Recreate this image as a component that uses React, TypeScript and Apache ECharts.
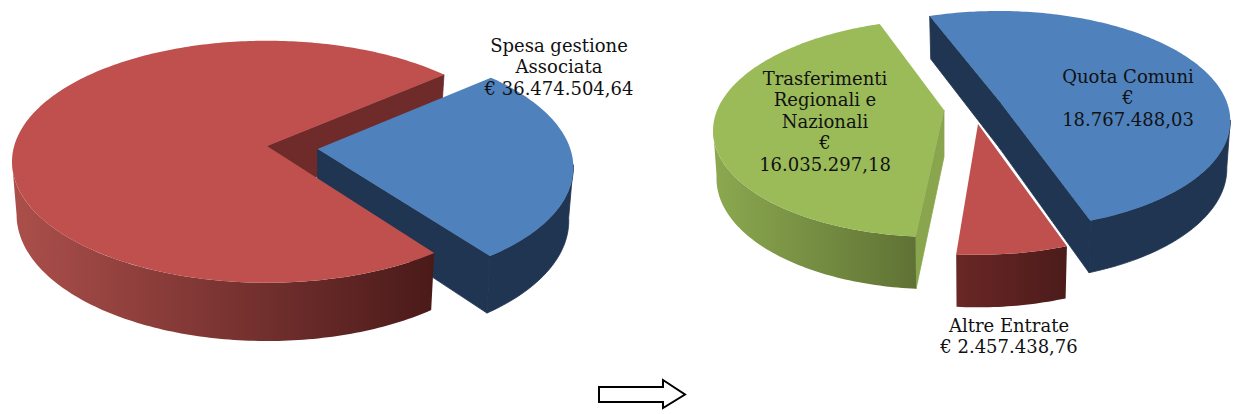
import React, { useEffect, useRef } from "react";
import * as echarts from "echarts";

// ---- data ----
const leftCategories = ["Spesa gestione Associata", "Altro (senza etichetta)"];
const leftValues = [36474504.64, 102770000];
const rightCategories = ["Quota Comuni", "Altre Entrate", "Trasferimenti Regionali e Nazionali"];
const rightValues = [18767488.03, 2457438.76, 16035297.18];

const leftLabelLines = ["Spesa gestione", "Associata", "€ 36.474.504,64"];
const quotaLabelLines = ["Quota Comuni", "€", "18.767.488,03"];
const altreLabelLines = ["Altre Entrate", "€ 2.457.438,76"];
const trasfLabelLines = ["Trasferimenti", "Regionali e", "Nazionali", "€", "16.035.297,18"];

// ---- projection and style ----
const BLUE = "#4F81BD", RED = "#C0504D", GREEN = "#9BBB59";
const BLUE_WALL = "#1F3552", RED_INNER = "#6E2B2A", GREEN_INNER = "#89A54E";
const FONT = '"DejaVu Serif", serif';

type Pie = { k: number; rx: number; ry: number; h0: number; hs: number; sx: number; startDeg: number };
type Geo = { ax: number; ay: number; shear: number; sX: number; sY: number };
const leftPie: Pie = { k: 0.13, rx: 255, ry: 121, h0: 52.3, hs: 0.044, sx: 0.982, startDeg: -40.6 };
const rightPie: Pie = { k: 0.165, rx: 225, ry: 109, h0: 46.8, hs: 0.044, sx: 0.985, startDeg: -110.5 };

const leftGeo: Geo[] = [
  { ax: 317.5, ay: 149, shear: 0.05, sX: 1, sY: 1 },
  { ax: 267, ay: 146, shear: 0, sX: 1, sY: 1 },
];
const rightGeo: Geo[] = [
  { ax: 1000, ay: 102, shear: 0.018, sX: 1.022, sY: 1 },
  { ax: 978, ay: 124, shear: 0, sX: 1.03, sY: 1.03 },
  { ax: 944, ay: 110, shear: -0.053, sX: 1.022, sY: 1 },
];

function angles(values: number[], startDeg: number) {
  const total = values.reduce((a, b) => a + b, 0);
  let cur = startDeg;
  return values.map((v) => {
    const a = cur;
    cur += (v / total) * 360;
    return [a, cur];
  });
}

function topPoint(p: Pie, g: Geo, deg: number) {
  const t = (deg * Math.PI) / 180;
  const u = Math.cos(t), v = Math.sin(t);
  const w = 1 - p.k * v;
  const R = p.rx * g.sX * Math.sqrt(1 - p.k * p.k);
  const S = p.ry * g.sY * (1 - p.k * p.k);
  const dy = (S * v) / w;
  return [g.ax + (R * u) / w + g.shear * dy, g.ay + dy];
}
function lower(p: Pie, g: Geo, pt: number[]) {
  return [g.ax + (pt[0] - g.ax) * p.sx, pt[1] + p.h0 + (pt[1] - g.ay) * p.hs];
}
function arc(p: Pie, g: Geo, a: number, b: number) {
  const n = Math.max(2, Math.ceil(Math.abs(b - a)));
  const out: number[][] = [];
  for (let i = 0; i <= n; i++) out.push(topPoint(p, g, a + ((b - a) * i) / n));
  return out;
}

type Part = { slice: number; part: "top" | "outer" | "edgeStart" | "edgeEnd"; fill: any };

function grad(x0: number, x1: number, c0: string, c1: string) {
  return new echarts.graphic.LinearGradient(x0, 0, x1, 0, [{ offset: 0, color: c0 }, { offset: 1, color: c1 }], true);
}

function pieSeries(p: Pie, values: number[], geo: Geo[], parts: Part[]) {
  const ang = angles(values, p.startDeg);
  // the wall's silhouette starts where the projected rim reaches its left and right extremes
  const tangent = (Math.asin(p.k) * 180) / Math.PI;
  return {
    type: "custom",
    coordinateSystem: "none",
    silent: true,
    data: parts.map((q) => [values[q.slice]]),
    renderItem: (params: any) => {
      const q = parts[params.dataIndex];
      const [a, b] = ang[q.slice];
      const g = geo[q.slice];
      const apex = [g.ax, g.ay];
      let points: number[][] = [];
      if (q.part === "top") {
        points = [apex, ...arc(p, g, a, b)];
      } else if (q.part === "outer") {
        const lo = Math.max(a, tangent), hi = Math.min(b, 180 - tangent);
        const rim = arc(p, g, lo, hi);
        points = [...rim, ...rim.map((pt) => lower(p, g, pt)).reverse()];
      } else {
        const rimPt = topPoint(p, g, q.part === "edgeStart" ? a : b);
        points = [apex, rimPt, lower(p, g, rimPt), lower(p, g, apex)];
      }
      const solidWall = q.part !== "top" && typeof q.fill === "string";
      return {
        type: "polygon",
        shape: { points },
        style: { fill: q.fill, stroke: solidWall ? q.fill : null, lineWidth: solidWall ? 0.8 : 0 },
      };
    },
  };
}

function textLines(lines: string[], x: number, y: number) {
  return lines.map((text, i) => ({
    type: "text",
    z: 100,
    x,
    y: y + i * 21.5,
    style: { text, fill: "#111", font: `18px ${FONT}`, textAlign: "center", textVerticalAlign: "middle" },
  }));
}

export default function App() {
  const ref = useRef<HTMLDivElement>(null);
  useEffect(() => {
    const chart = echarts.init(ref.current!, null, { renderer: "svg" });
    chart.setOption({
      animation: false,
      backgroundColor: "#fff",
      series: [
        pieSeries(leftPie, leftValues, leftGeo, [
          { slice: 1, part: "edgeEnd", fill: RED_INNER },
          { slice: 0, part: "outer", fill: BLUE_WALL },
          { slice: 0, part: "edgeEnd", fill: BLUE_WALL },
          { slice: 0, part: "top", fill: BLUE },
          { slice: 1, part: "outer", fill: grad(12, 434, "#AC4F4B", "#4A1A19") },
          { slice: 1, part: "top", fill: RED },
        ]),
        pieSeries(rightPie, rightValues, rightGeo, [
          { slice: 2, part: "edgeStart", fill: GREEN_INNER },
          { slice: 2, part: "outer", fill: grad(712, 917, "#8CA950", "#5F7234") },
          { slice: 2, part: "top", fill: GREEN },
          { slice: 1, part: "outer", fill: grad(954, 1064, "#6A2725", "#4C1C1B") },
          { slice: 1, part: "top", fill: RED },
          { slice: 0, part: "outer", fill: BLUE_WALL },
          { slice: 0, part: "edgeStart", fill: BLUE_WALL },
          { slice: 0, part: "edgeEnd", fill: BLUE_WALL },
          { slice: 0, part: "top", fill: BLUE },
        ]),
      ],
      graphic: {
        elements: [
          ...textLines(leftLabelLines, 559, 45),
          ...textLines(trasfLabelLines, 825, 78),
          ...textLines(quotaLabelLines, 1128, 76),
          ...textLines(altreLabelLines, 1009, 325),
          {
            type: "polygon",
            z: 100,
            shape: {
              points: [[599, 387], [663, 387], [663, 380], [685, 394.5], [663, 408], [663, 402], [599, 402]],
            },
            style: { fill: "#fff", stroke: "#000", lineWidth: 2 },
          },
        ],
      },
    });
    return () => chart.dispose();
  }, []);
  return (
    <div
      ref={ref}
      aria-label={[...leftCategories, ...rightCategories].join(", ")}
      style={{ position: "absolute", left: 0, top: 0, width: 1235, height: 414 }}
    />
  );
}
